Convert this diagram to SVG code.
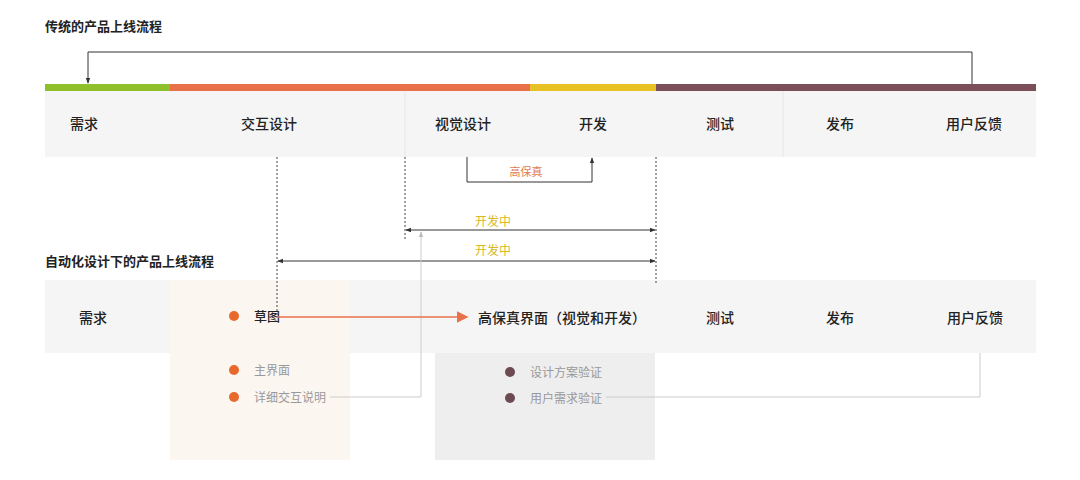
<svg xmlns="http://www.w3.org/2000/svg" width="1080" height="480" viewBox="0 0 1080 480">
<style>
text{font-family:"Noto Sans CJK SC","Noto Sans",sans-serif;font-size:13px;fill:#222}
.c,.m{font-weight:500;font-size:14px}
.t{font-weight:bold;font-size:13px}
.c{text-anchor:middle}
.s{fill:#999;font-size:12px;font-weight:normal}
.y{fill:#d9b820;font-size:12px;font-weight:normal}
.ln{fill:none;stroke:#333;stroke-width:1}
.da{fill:none;stroke:#444;stroke-width:1;stroke-dasharray:2 2}
.g{fill:none;stroke:#ccc;stroke-width:1}
</style>
<defs>
<marker id="a" viewBox="0 0 8 8" refX="7" refY="4" markerWidth="6" markerHeight="6" orient="auto-start-reverse"><path d="M0,1 L8,4 L0,7z" fill="#333"/></marker>
<marker id="ag" viewBox="0 0 8 8" refX="7" refY="4" markerWidth="6" markerHeight="6" orient="auto"><path d="M0,1 L8,4 L0,7z" fill="#bbb"/></marker>
<marker id="ao" viewBox="0 0 8 8" refX="7" refY="4" markerWidth="8" markerHeight="8" orient="auto"><path d="M0,0 L8,4 L0,8z" fill="#e8714a"/></marker>
</defs>
<rect width="1080" height="480" fill="#fff"/>
<text x="45" y="31" class="t">传统的产品上线流程</text>
<g id="top-row">
<rect x="45" y="91" width="991" height="66" fill="#f5f5f5"/>
<rect x="45" y="84" width="125" height="7" fill="#8fbf2a"/>
<rect x="170" y="84" width="360" height="7" fill="#e8714a"/>
<rect x="530" y="84" width="126" height="7" fill="#e8c224"/>
<rect x="656" y="84" width="380" height="7" fill="#7a4f5a"/>
<line x1="405" y1="91" x2="405" y2="157" stroke="#e6e6e6"/>
<line x1="783" y1="91" x2="783" y2="157" stroke="#e6e6e6"/>
</g>
<g id="n1"><text x="84" y="129" class="c">需求</text></g>
<g id="n2"><text x="269" y="129" class="c">交互设计</text></g>
<g id="n3"><text x="463" y="129" class="c">视觉设计</text></g>
<g id="n4"><text x="593" y="129" class="c">开发</text></g>
<g id="n5"><text x="720" y="129" class="c">测试</text></g>
<g id="n6"><text x="840" y="129" class="c">发布</text></g>
<g id="n7"><text x="974" y="129" class="c">用户反馈</text></g>
<text x="45" y="266" class="t">自动化设计下的产品上线流程</text>
<g id="bottom-row">
<rect x="45" y="280" width="991" height="73" fill="#f5f5f5"/>
<rect x="170" y="280" width="180" height="180" fill="#fcf6f1"/>
<rect x="435" y="353" width="220" height="107" fill="#efeeee"/>
</g>
<g id="b1"><text x="93" y="323" class="c">需求</text></g>
<g id="b2"><circle cx="234" cy="316" r="5" fill="#e8692e"/><text x="254" y="321" class="m" style="font-size:13px">草图</text>
<circle cx="234" cy="370" r="5" fill="#e8692e"/><text x="254" y="375" class="s">主界面</text>
<circle cx="234" cy="397" r="5" fill="#e8692e"/><text x="254" y="402" class="s">详细交互说明</text></g>
<g id="b3"><text x="478" y="323" class="m">高保真界面（视觉和开发）</text>
<circle cx="510" cy="372" r="5" fill="#6b4a52"/><text x="530" y="377" class="s">设计方案验证</text>
<circle cx="510" cy="398" r="5" fill="#6b4a52"/><text x="530" y="403" class="s">用户需求验证</text></g>
<g id="b4"><text x="720" y="323" class="c">测试</text></g>
<g id="b5"><text x="840" y="323" class="c">发布</text></g>
<g id="b6"><text x="975" y="323" class="c">用户反馈</text></g>
<g id="connectors">
<polyline class="ln" points="972,84 972,52 88,52 88,83" marker-end="url(#a)"/>
<line class="da" x1="277" y1="157" x2="277" y2="316"/>
<line class="da" x1="405" y1="157" x2="405" y2="240"/>
<line class="da" x1="656" y1="157" x2="656" y2="285"/>
<polyline class="ln" stroke="#555" points="467,157 467,182 592,182 592,158" marker-end="url(#a)"/>
<text x="526" y="176" text-anchor="middle" style="fill:#e07a55;font-size:11px">高保真</text>
<line class="ln" x1="406" y1="230" x2="655" y2="230" marker-start="url(#a)" marker-end="url(#a)"/>
<text x="493" y="226" text-anchor="middle" class="y">开发中</text>
<line class="ln" x1="278" y1="261" x2="655" y2="261" marker-start="url(#a)" marker-end="url(#a)"/>
<text x="493" y="255" text-anchor="middle" class="y">开发中</text>
<polyline class="g" points="330,397 421,397 421,232" marker-end="url(#ag)"/>
<line x1="277" y1="317" x2="467" y2="317" stroke="#e8714a" stroke-width="1.5" marker-end="url(#ao)"/>
<polyline class="g" points="606,397 980,397 980,353"/>
</g>
</svg>
